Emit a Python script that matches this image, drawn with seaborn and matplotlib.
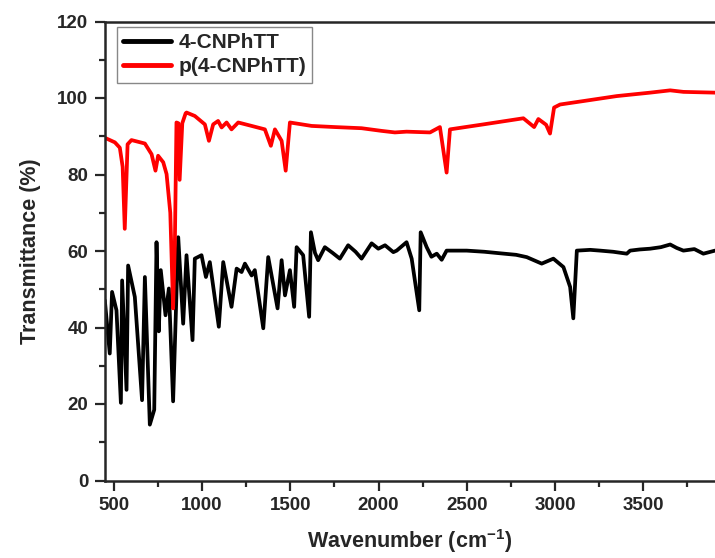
import numpy as np
import pandas as pd
import matplotlib
matplotlib.use('Agg')
import matplotlib.pyplot as plt
from matplotlib.ticker import AutoMinorLocator
import seaborn as sns

# FTIR spectra
mono_wn = [449, 477, 490, 515, 540, 547, 572, 581, 619, 660, 676, 704, 729, 742, 755, 766,
           793, 812, 836, 865, 893, 912, 946, 959, 997, 1022, 1044, 1095, 1120, 1167, 1196,
           1224, 1243, 1281, 1299, 1347, 1375, 1428, 1451, 1470, 1498, 1522, 1536, 1573,
           1607, 1617, 1640, 1658, 1696, 1740, 1781, 1828, 1870, 1904, 1961, 1999, 2037, 2084,
           2103, 2159, 2188, 2231, 2239, 2273, 2300, 2330, 2358, 2386, 2500, 2600, 2689, 2780,
           2840, 2925, 2991, 3048, 3086, 3104, 3124, 3200, 3256, 3330, 3407, 3426, 3480,
           3539, 3600, 3653, 3690, 3728, 3790, 3841, 3907]
mono_t = [47.1, 33.2, 49.3, 44.5, 20.3, 52.3, 23.7, 56.2, 48.0, 21.0, 53.2, 14.6, 18.5, 62.3,
          39.0, 55.0, 43.2, 50.2, 20.7, 63.6, 41.0, 58.9, 36.7, 58.0, 58.9, 53.2, 57.1, 40.2,
          57.1, 45.4, 55.4, 54.5, 56.7, 53.6, 55.0, 39.8, 58.4, 45.0, 57.6, 48.4, 55.0, 45.4,
          61.0, 58.9, 42.8, 64.9, 59.5, 57.6, 61.0, 59.5, 58.0, 61.5, 59.8, 58.0, 62.0, 60.6, 61.5,
          59.7, 60.1, 62.3, 58.0, 44.5, 64.9, 61.0, 58.5, 59.3, 57.7, 60.1, 60.1, 59.8, 59.4, 59.0,
          58.4, 56.7, 58.0, 55.8, 50.6, 42.4, 60.1, 60.3, 60.1, 59.8, 59.3, 60.1, 60.4,
          60.6, 61.0, 61.7, 60.8, 60.1, 60.5, 59.3, 60.1]

poly_wn = [449, 506, 534, 550, 562, 578, 600, 676, 714, 736, 751, 780, 799, 820, 836, 846,
           855, 866, 873, 888, 907, 912, 959, 1016, 1039, 1063, 1091, 1111, 1139, 1167, 1205,
           1281, 1356, 1390, 1413, 1451, 1474, 1498, 1621, 1753, 1904, 2018, 2093, 2159, 2292,
           2348, 2386, 2405, 2594, 2821, 2882, 2906, 2950, 2972, 2995, 3029, 3161, 3350, 3539,
           3653, 3728, 3907]
poly_t = [89.6, 88.4, 87.0, 82.0, 65.8, 87.9, 89.0, 88.1, 85.3, 81.0, 84.9, 83.2, 80.1, 70.0,
          45.0, 62.0, 93.6, 93.4, 78.6, 93.4, 96.0, 96.2, 95.3, 93.1, 88.8, 93.1, 94.0, 92.3,
          93.6, 91.8, 93.6, 92.7, 91.8, 87.5, 91.8, 88.8, 81.0, 93.6, 92.7, 92.4, 92.1, 91.4,
          91.0, 91.2, 91.0, 92.4, 80.5, 91.8, 93.1, 94.7, 92.4, 94.5, 93.0, 90.7, 97.5, 98.3,
          99.2, 100.5, 101.4, 102.0, 101.6, 101.4]

labels = ['4-CNPhTT', 'p(4-CNPhTT)']
colors = ['black', '#ff0000']

sns.set_style('ticks')
plt.rcParams['font.family'] = ['Liberation Sans', 'DejaVu Sans']
plt.rcParams['font.weight'] = 'bold'
plt.rcParams['mathtext.fontset'] = 'custom'
plt.rcParams['mathtext.rm'] = 'Liberation Sans:bold'
plt.rcParams['mathtext.bf'] = 'Liberation Sans:bold'
plt.rcParams['mathtext.default'] = 'bf'

fig = plt.figure(figsize=(7.15, 5.58), dpi=100)
ax = fig.add_axes([105 / 715, 1 - 480.5 / 558, 610 / 715, 459 / 558])

df_mono = pd.DataFrame({'wn': mono_wn, 't': mono_t})
df_poly = pd.DataFrame({'wn': poly_wn, 't': poly_t})
sns.lineplot(data=df_mono, x='wn', y='t', ax=ax, color=colors[0], lw=2.7,
             label=labels[0], estimator=None, sort=False)
sns.lineplot(data=df_poly, x='wn', y='t', ax=ax, color=colors[1], lw=2.7,
             label=labels[1], estimator=None, sort=False)

ax.set_xlim(450, 3907)
ax.set_ylim(0, 120)
ax.set_xticks(np.arange(500, 4000, 500))
ax.set_yticks(np.arange(0, 121, 20))
ax.xaxis.set_minor_locator(AutoMinorLocator(2))
ax.yaxis.set_minor_locator(AutoMinorLocator(2))
ax.tick_params(which='major', direction='out', length=7, width=1.6, labelsize=13.5, pad=5)
ax.tick_params(which='minor', direction='out', length=4, width=1.6)
for s in ['left', 'bottom', 'top']:
    ax.spines[s].set_linewidth(1.8)
ax.spines['right'].set_visible(False)
for lab in ax.get_xticklabels() + ax.get_yticklabels():
    lab.set_fontweight('bold')

ax.set_xlabel(r'Wavenumber (cm$^{-1}$)', fontsize=15.5, fontweight='bold', labelpad=9)
ax.set_ylabel('Transmittance (%)', fontsize=15.5, fontweight='bold', labelpad=12)

leg = ax.legend(loc='upper left', bbox_to_anchor=(0.0197, 0.988), borderaxespad=0,
                fontsize=15, frameon=True, fancybox=False, framealpha=1,
                handlelength=2.3, handletextpad=0.35, labelspacing=0.25, borderpad=0.3)
leg.get_frame().set_edgecolor('#888888')
leg.get_frame().set_linewidth(1.0)
for line in leg.get_lines():
    line.set_linewidth(3.5)
for t in leg.get_texts():
    t.set_fontweight('bold')

fig.savefig('out.png', dpi=100)
